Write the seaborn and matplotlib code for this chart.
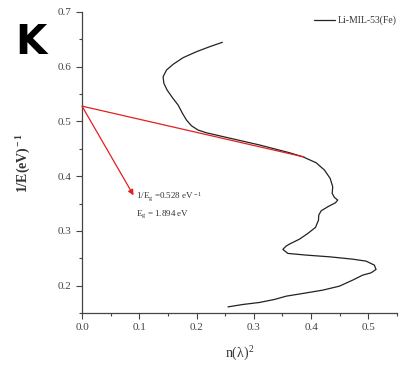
import matplotlib
matplotlib.use("Agg")
import matplotlib.pyplot as plt
import seaborn as sns
import pandas as pd
from matplotlib.ticker import MultipleLocator

# Traced spectrum: n(lambda)^2 versus 1/E
n2 = [0.2451, 0.2230, 0.1998, 0.1765, 0.1591, 0.1476, 0.1416, 0.1429, 0.1486,
      0.1580, 0.1678, 0.1754, 0.1824, 0.1911, 0.2026, 0.2172, 0.2347, 0.2549,
      0.3100, 0.3624, 0.3855, 0.4089, 0.4233, 0.4333, 0.4378, 0.4368, 0.4408,
      0.4465, 0.4425, 0.4291, 0.4176, 0.4134, 0.4129, 0.4077, 0.3943, 0.3798,
      0.3624, 0.3563, 0.3507, 0.3594, 0.3915, 0.4321, 0.4726, 0.4960, 0.5105,
      0.5134, 0.5047, 0.4901, 0.4726, 0.4495, 0.4204, 0.3855, 0.3566, 0.3362,
      0.3101, 0.2810, 0.2549]
inv_e = [0.6446, 0.6366, 0.6274, 0.6165, 0.6044, 0.5940, 0.5817, 0.5697, 0.5574,
         0.5433, 0.5300, 0.5148, 0.5026, 0.4921, 0.4843, 0.4793, 0.4751, 0.4702,
         0.4570, 0.4428, 0.4355, 0.4245, 0.4112, 0.3960, 0.3806, 0.3686, 0.3612,
         0.3563, 0.3514, 0.3441, 0.3367, 0.3289, 0.3197, 0.3064, 0.2954, 0.2850,
         0.2760, 0.2722, 0.2662, 0.2589, 0.2558, 0.2527, 0.2484, 0.2448, 0.2375,
         0.2296, 0.2234, 0.2192, 0.2101, 0.1991, 0.1918, 0.1857, 0.1808, 0.1748,
         0.1693, 0.1656, 0.1612]

# Linear fit extrapolated to the y axis
fit_x = [0.0, 0.3880]
fit_y = [0.528, 0.435]
intercept = 0.528
gap_energy = 1.894
series_label = "Li-MIL-53(Fe)"

sns.set_theme(style="white")
plt.rcParams["font.family"] = ["Liberation Serif", "DejaVu Serif"]
plt.rcParams["mathtext.fontset"] = "custom"
plt.rcParams["mathtext.rm"] = "Liberation Serif"
plt.rcParams["mathtext.it"] = "Liberation Serif:italic"
plt.rcParams["mathtext.bf"] = "Liberation Serif:bold"

fig = plt.figure(figsize=(4.01, 3.71), dpi=100)
ax = fig.add_axes([0.2045, 0.1563, 0.7855, 0.8114])

df = pd.DataFrame({"n2": n2, "inv_e": inv_e})
sns.lineplot(data=df, x="n2", y="inv_e", sort=False, estimator=None,
             color="#222222", lw=0.9, ax=ax, label=series_label)
sns.lineplot(x=fit_x, y=fit_y, sort=False, estimator=None,
             color="#e02020", lw=0.9, ax=ax)

ax.annotate("", xy=(0.09, 0.365), xytext=(0.0, intercept),
            arrowprops=dict(arrowstyle="-|>", color="#e02020", lw=0.9,
                            mutation_scale=8, shrinkA=0, shrinkB=0))
ax.text(0.094, 0.362, r"1/E$_{\rm g}$ =%.3f eV$^{\rm -1}$" % intercept,
        fontsize=6.5, va="center", ha="left", color="#333333")
ax.text(0.094, 0.330, r"E$_{\rm g}$ = %.3f eV" % gap_energy,
        fontsize=6.5, va="center", ha="left", color="#333333")

ax.set_xlim(0, 0.55)
ax.set_ylim(0.15, 0.7)
ax.xaxis.set_major_locator(MultipleLocator(0.1))
ax.xaxis.set_minor_locator(MultipleLocator(0.05))
ax.yaxis.set_major_locator(MultipleLocator(0.1))
ax.yaxis.set_minor_locator(MultipleLocator(0.05))
ax.tick_params(which="major", direction="out", length=4, width=0.8,
               color="#444444", labelsize=8, labelcolor="#444444",
               bottom=True, left=True)
ax.tick_params(which="minor", direction="out", length=2.5, width=0.8,
               color="#444444", bottom=True, left=True)
for side in ("top", "right"):
    ax.spines[side].set_visible(False)
for side in ("left", "bottom"):
    ax.spines[side].set_color("#444444")
    ax.spines[side].set_linewidth(0.9)

ax.set_xlabel("n(λ)$^{\\rm 2}$", fontsize=10, color="#333333", labelpad=9)
ax.set_ylabel(r"1/E(eV)$^{\bf -1}$", fontsize=10, fontweight="bold",
              color="#333333", labelpad=18)

leg = ax.legend(loc="upper right", frameon=False, fontsize=7,
                handlelength=2.2, handletextpad=0.2, borderaxespad=0.0,
                bbox_to_anchor=(1.01, 1.0))
for t in leg.get_texts():
    t.set_color("#333333")

fig.text(0.037, 0.885, "K", fontsize=29, fontweight="bold",
         family="DejaVu Sans", color="black", va="center", ha="left")

fig.savefig("out.png", dpi=100)
